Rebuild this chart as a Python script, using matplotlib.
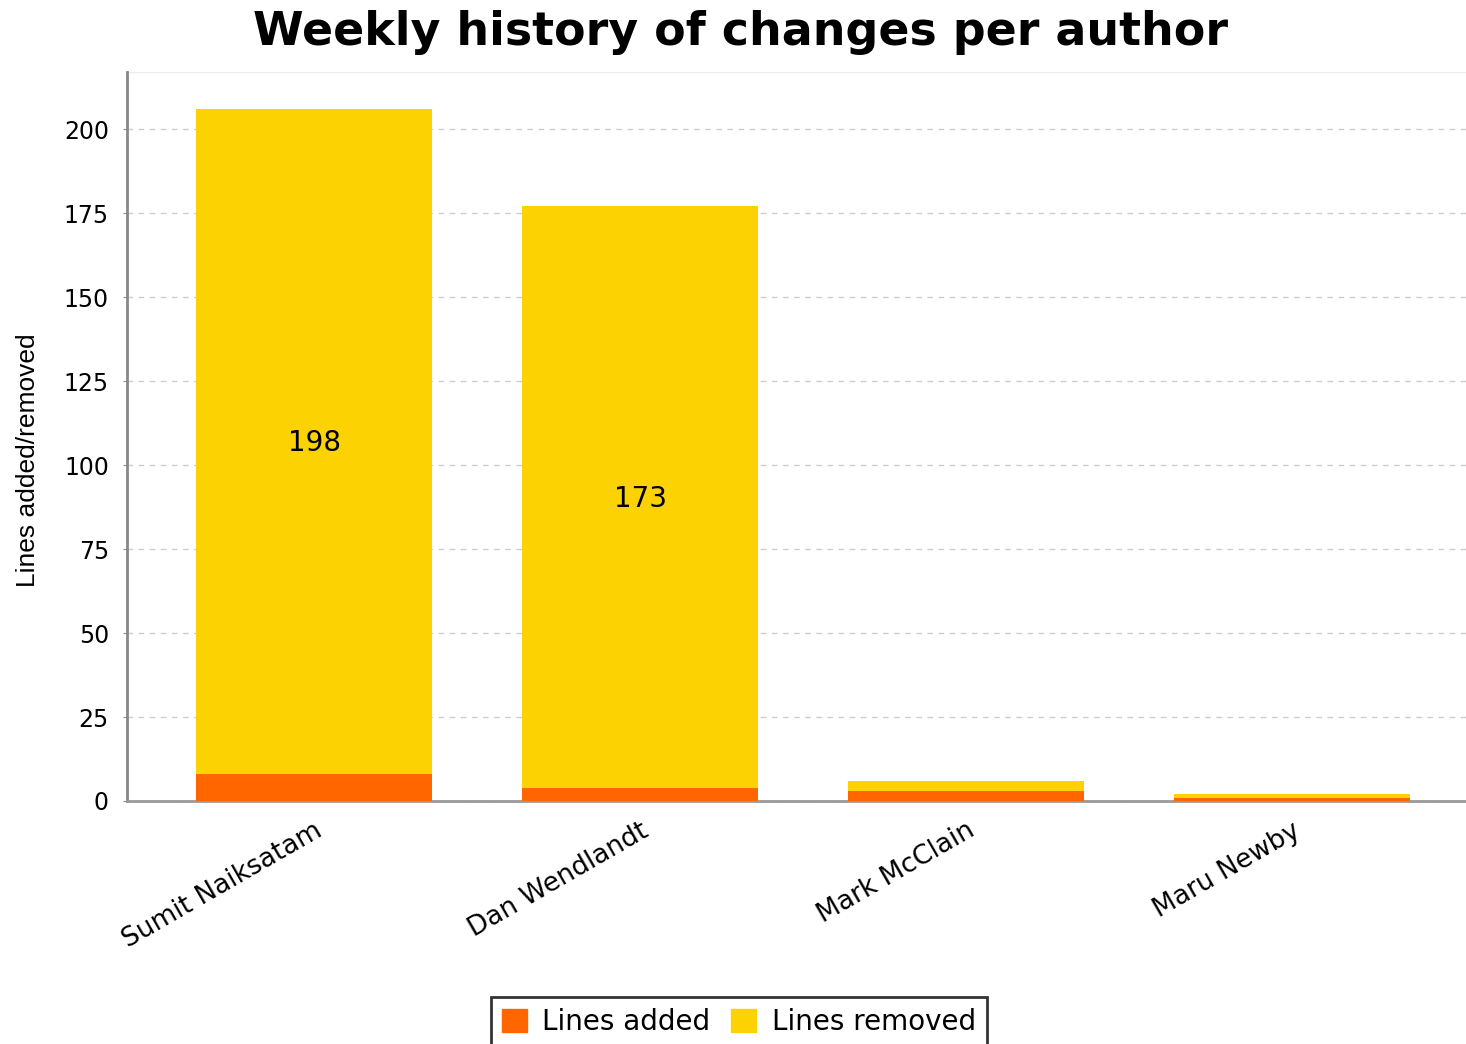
import numpy as np
import matplotlib.pyplot as plt
from matplotlib.patches import Patch

authors = ['Sumit Naiksatam', 'Dan Wendlandt', 'Mark McClain', 'Maru Newby']
added = [8, 4, 3, 1]
removed = [198, 173, 3, 1]
show_label = [True, True, False, False]  # only the tall bars get a number

c_added = '#FF6600'
c_removed = '#FCD202'

fig = plt.figure(figsize=(14.66, 10.44), dpi=100)
ax = fig.add_axes([127/1466, 1 - 801/1044, 1 - 127/1466, (801 - 72)/1044])

x = np.arange(len(authors))
w = 0.724
ax.bar(x, added, w, color=c_added, label='Lines added', zorder=3)
ax.bar(x, removed, w, bottom=added, color=c_removed, label='Lines removed', zorder=3)

for i in range(len(authors)):
    if show_label[i]:
        ax.text(x[i], added[i] + removed[i] / 2.0 - 0.5, str(removed[i]),
                ha='center', va='center', fontsize=20, zorder=4)

ax.set_xlim(-0.574, 3.534)
ax.set_ylim(0, 217)
ax.set_yticks(np.arange(0, 201, 25))
ax.tick_params(axis='y', labelsize=17, length=3, color='#888888', pad=10)
ax.set_xticks(x)
ax.set_xticklabels(authors, rotation=30, ha='right', rotation_mode='anchor', fontsize=19)
ax.tick_params(axis='x', length=0, pad=12)

ax.yaxis.grid(True, linestyle=(0, (4, 4)), color='#cccccc', linewidth=1, zorder=0)
for s in ['top', 'right']:
    ax.spines[s].set_visible(False)
ax.spines['left'].set_color('#888888')
ax.spines['left'].set_linewidth(2)
ax.spines['bottom'].set_color('#999999')
ax.spines['bottom'].set_linewidth(2)
ax.axhline(217, color='#eeeeee', linewidth=1)

ax.set_ylabel('Lines added/removed', fontsize=19, family='Liberation Sans')
ax.yaxis.set_label_coords(-0.065, 0.468)

fig.text(0.505, 0.969, 'Weekly history of changes per author', ha='center', va='center',
         fontsize=33, fontweight='bold')

handles = [Patch(color=c_added, label='Lines added'), Patch(color=c_removed, label='Lines removed')]
leg = fig.legend(handles=handles, loc='center', bbox_to_anchor=(0.504, 0.021), ncol=2,
                 fontsize=20, frameon=True, fancybox=False, edgecolor='black',
                 handlelength=0.9, handleheight=0.9, handletextpad=0.55, columnspacing=0.75,
                 borderpad=0.4, borderaxespad=0)
leg.get_frame().set_linewidth(2)

fig.savefig('out.png', dpi=100)
